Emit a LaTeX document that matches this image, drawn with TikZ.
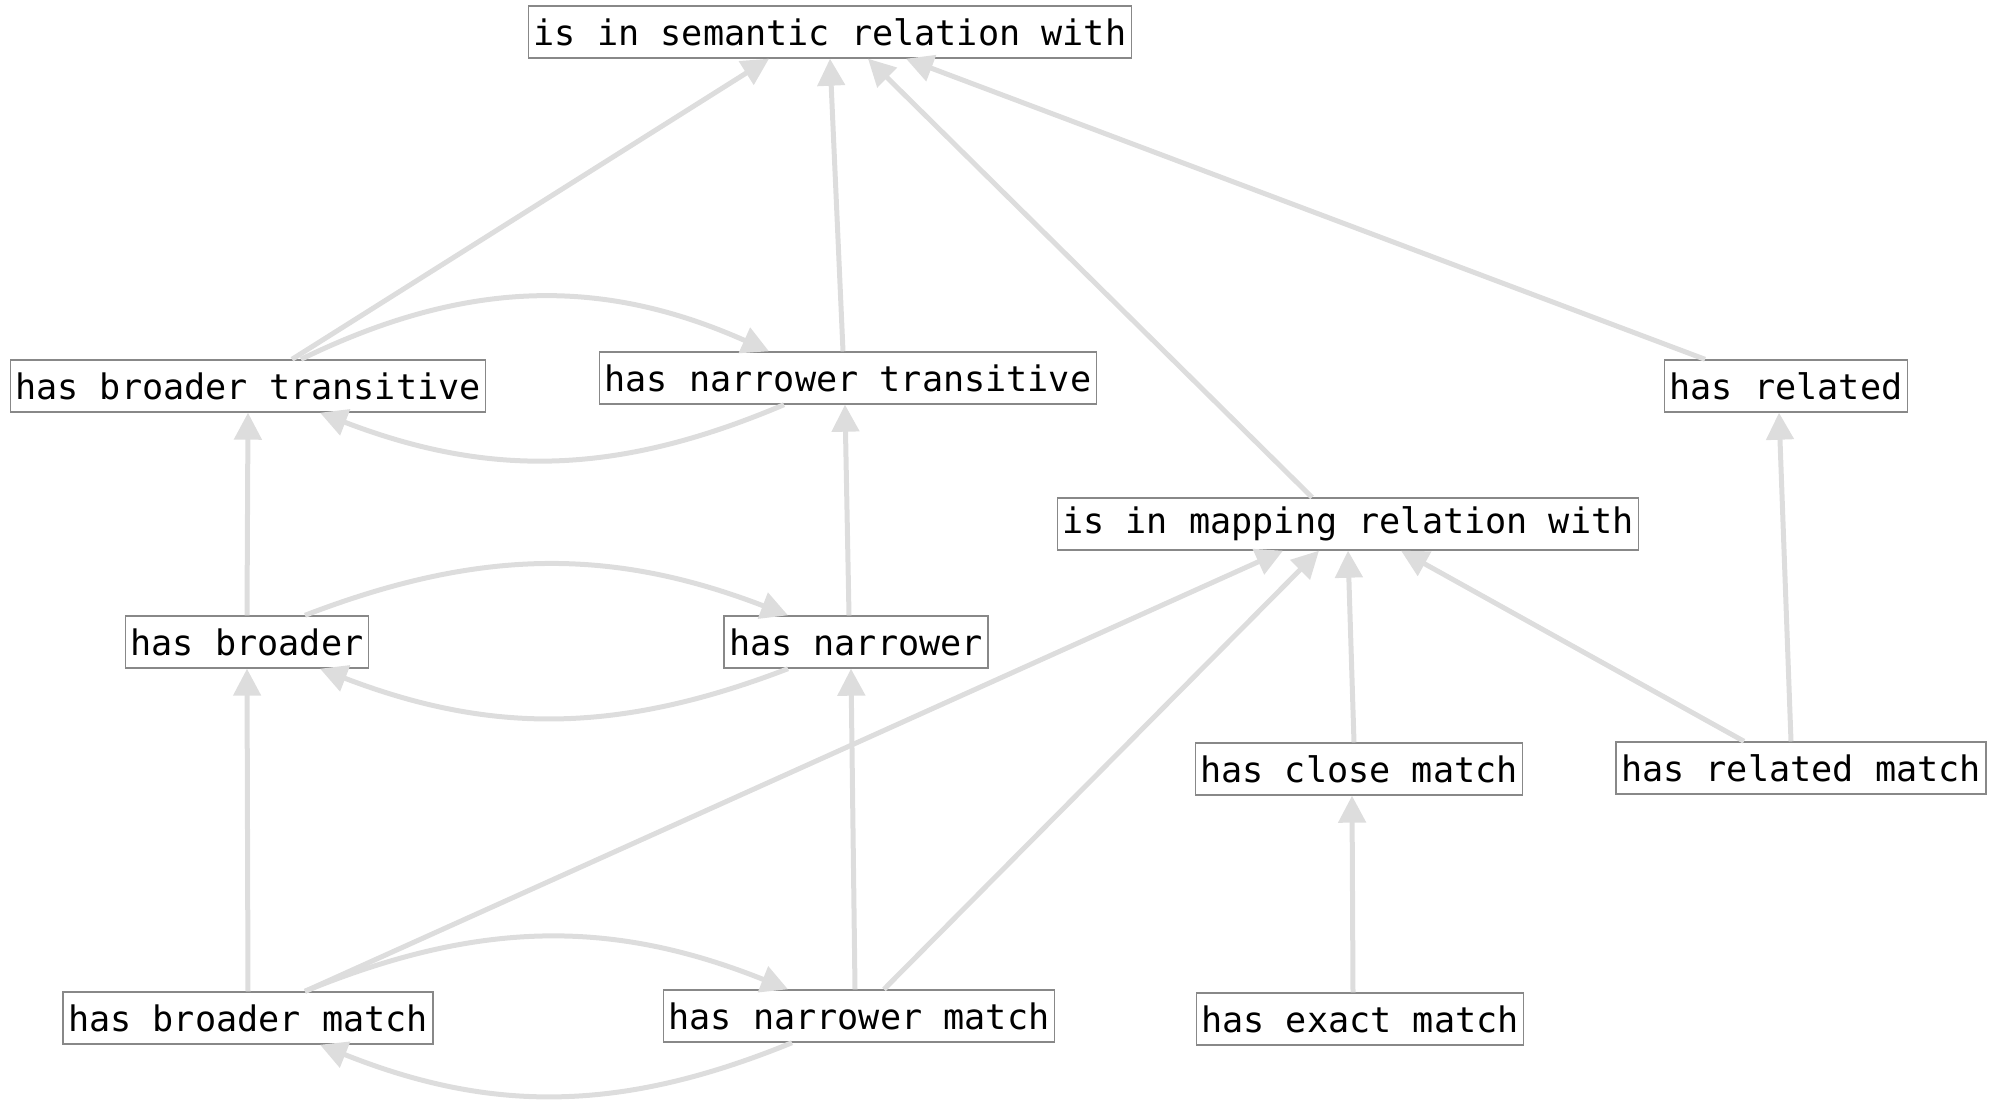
\documentclass[tikz,border=0pt]{standalone}
\usepackage{fontspec}
\usepackage{tikz}
\usetikzlibrary{positioning}
\usetikzlibrary{shapes, arrows.meta, calc}

\newfontfamily\propfont{DejaVu Sans Mono}
\definecolor{edgegray}{HTML}{DDDDDD}
\definecolor{boxgray}{HTML}{888888}

\tikzset{
    prop/.style={draw=boxgray, line width=0.4pt, fill=white, font=\propfont,
        inner xsep=0.05cm, inner ysep=0pt, minimum height=0.52cm},
    isa/.style={draw=edgegray, line width=0.05cm,
        -{Triangle[length=0.27cm,width=0.27cm]}},
}

\begin{document}
\begin{tikzpicture}
    \useasboundingbox (0,0) rectangle (20,-11.18);

    % properties
    \node[prop] (sem) at (8.30,-0.32) {is in semantic relation with};
    \node[prop] (btrans) at (2.48,-3.86) {has broader transitive};
    \node[prop] (ntrans) at (8.48,-3.78) {has narrower transitive};
    \node[prop] (related) at (17.86,-3.86) {has related};
    \node[prop] (mapping) at (13.48,-5.24) {is in mapping relation with};
    \node[prop] (broader) at (2.47,-6.42) {has broader};
    \node[prop] (narrower) at (8.56,-6.42) {has narrower};
    \node[prop] (close) at (13.59,-7.69) {has close match};
    \node[prop] (relmatch) at (18.01,-7.68) {has related match};
    \node[prop] (bmatch) at (2.48,-10.18) {has broader match};
    \node[prop] (nmatch) at (8.59,-10.16) {has narrower match};
    \node[prop] (exact) at (13.60,-10.19) {has exact match};

    % sub-properties of semantic relation
    \draw[isa] ([xshift=0.44cm]btrans.north) -- ([xshift=-0.61cm]sem.south);
    \draw[isa] ([xshift=-0.05cm]ntrans.north) -- (sem.south);
    \draw[isa] ([xshift=-0.36cm]mapping.north) -- ([xshift=0.38cm]sem.south);
    \draw[isa] ([xshift=-0.81cm]related.north) -- ([xshift=0.76cm]sem.south);

    % inverses
    \draw[isa] ([xshift=0.53cm]btrans.north) to[bend left=25] ([xshift=-0.79cm]ntrans.north);
    \draw[isa] ([xshift=-0.64cm]ntrans.south) to[bend left=22] ([xshift=0.72cm]btrans.south);
    \draw[isa] ([xshift=0.58cm]broader.north) to[bend left=21] ([xshift=-0.68cm]narrower.north);
    \draw[isa] ([xshift=-0.68cm]narrower.south) to[bend left=21] ([xshift=0.73cm]broader.south);
    \draw[isa] ([xshift=0.57cm]bmatch.north) to[bend left=22] ([xshift=-0.71cm]nmatch.north);
    \draw[isa] ([xshift=-0.67cm]nmatch.south) to[bend left=22] ([xshift=0.72cm]bmatch.south);

    % hierarchy
    \draw[isa] (broader.north) -- (btrans.south);
    \draw[isa] ([xshift=-0.07cm]narrower.north) -- ([xshift=-0.03cm]ntrans.south);
    \draw[isa] (bmatch.north) -- (broader.south);
    \draw[isa] ([xshift=-0.04cm]nmatch.north) -- ([xshift=-0.05cm]narrower.south);

    % mapping relations
    \draw[isa] ([xshift=0.57cm]bmatch.north) -- ([xshift=-0.65cm]mapping.south);
    \draw[isa] ([xshift=0.25cm]nmatch.north) -- ([xshift=-0.29cm]mapping.south);
    \draw[isa] ([xshift=-0.05cm]close.north) -- (mapping.south);
    \draw[isa] ([xshift=-0.57cm]relmatch.north) -- ([xshift=0.53cm]mapping.south);
    \draw[isa] ([xshift=-0.10cm]relmatch.north) -- ([xshift=-0.07cm]related.south);
    \draw[isa] ([xshift=-0.07cm]exact.north) -- ([xshift=-0.07cm]close.south);
\end{tikzpicture}
\end{document}
